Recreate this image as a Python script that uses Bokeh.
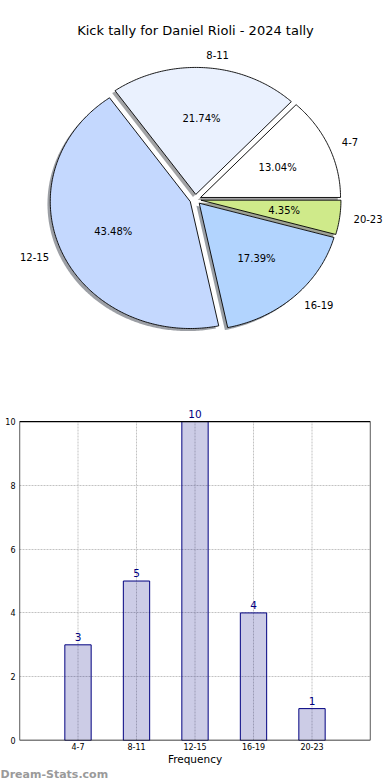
import numpy as np
from bokeh.plotting import figure
from bokeh.models import (Range1d, Label, LabelSet, ColumnDataSource,
                          FixedTicker, Title)
from bokeh.layouts import column
from bokeh.embed import file_html
from bokeh.resources import INLINE
from bokeh.core.properties import value

# ---------------- data ----------------
chart_title = "Kick tally for Daniel Rioli - 2024 tally"
categories = ["4-7", "8-11", "12-15", "16-19", "20-23"]
counts = [3, 5, 10, 4, 1]
pie_colors = ["#ffffff", "#eaf1fe", "#c4d8fe", "#b2d4fe", "#cfea8a"]
y_ticks = [0, 2, 4, 6, 8, 10]
x_label = "Frequency"
watermark = "Dream-Stats.com"

# ---------------- layout constants ----------------
W = 390
PIE_H = 390
BAR_H = 390
FONT = "DejaVu Sans"
CX, CY = 194.9, 199.0       # pie centre in figure pixels (from top-left)
RX, RY = 140.0, 127.0       # pie radii in pixels (elliptical like the source)
EXPLODE = 0.04
SHADOW_OFF = 0.02
LABEL_D = 1.1
PCT_D = 0.6
Y_TOP = 10.66               # frame extends a little above the box top


def hexrgb(h):
    h = h.lstrip("#")
    return tuple(int(h[i:i + 2], 16) for i in (0, 2, 4))


# ---------------- pie ----------------
pie = figure(width=W, height=PIE_H, output_backend="svg", toolbar_location=None,
             x_range=Range1d(-CX / RX, (W - CX) / RX),
             y_range=Range1d(-(PIE_H - CY) / RY, CY / RY),
             x_axis_type=None, y_axis_type=None, min_border=0)
pie.frame_align = False
pie.grid.visible = False
pie.outline_line_color = None
pie.background_fill_color = "white"

total = float(sum(counts))
fracs = np.array(counts, dtype=float) / total
ends = np.cumsum(fracs) * 2 * np.pi
starts = np.concatenate([[0.0], ends[:-1]])

wx, wy, sx, sy, shcol = [], [], [], [], []
lab_l = {"x": [], "y": [], "t": []}
lab_r = {"x": [], "y": [], "t": []}
pct = {"x": [], "y": [], "t": []}
for a0, a1, col, cat, f in zip(starts, ends, pie_colors, categories, fracs):
    m = 0.5 * (a0 + a1)
    ox, oy = EXPLODE * np.cos(m), EXPLODE * np.sin(m)
    t = np.linspace(a0, a1, max(int((a1 - a0) * 80), 10))
    px = np.concatenate([[ox], ox + np.cos(t)])
    py = np.concatenate([[oy], oy + np.sin(t)])
    wx.append(px.tolist())
    wy.append(py.tolist())
    sx.append((px - SHADOW_OFF).tolist())
    sy.append((py - SHADOW_OFF).tolist())
    r, g, b = hexrgb(col)
    shcol.append("#%02x%02x%02x" % (int(r * 0.3), int(g * 0.3), int(b * 0.3)))
    xt = ox + LABEL_D * np.cos(m)
    yt = oy + LABEL_D * np.sin(m)
    d = lab_l if xt > 0 else lab_r
    d["x"].append(xt)
    d["y"].append(yt)
    d["t"].append(cat)
    pct["x"].append(ox + PCT_D * np.cos(m))
    pct["y"].append(oy + PCT_D * np.sin(m))
    pct["t"].append("%.2f%%" % (f * 100))

pie.patches(xs=sx, ys=sy, fill_color=shcol, fill_alpha=0.5, line_color=None)
pie.patches(xs=wx, ys=wy, fill_color=pie_colors, line_color="black", line_width=0.9)

for d, align in ((lab_l, "left"), (lab_r, "right")):
    pie.text(x=d["x"], y=d["y"], text=d["t"], text_font=value(FONT),
             text_font_size="10px", text_align=align, text_baseline="middle",
             text_color="black")
pie.text(x=pct["x"], y=pct["y"], text=pct["t"], text_font=value(FONT),
         text_font_size="10px", text_align="center", text_baseline="middle",
         text_color="black")

pie.add_layout(Label(x=(195.0 - CX) / RX, y=(CY - 30.0) / RY, text=chart_title,
                     text_font=FONT, text_font_size="13px", text_align="center",
                     text_baseline="middle", text_color="black"))

# ---------------- bars ----------------
xpos = list(range(1, len(categories) + 1))
src = ColumnDataSource(dict(x=xpos, count=counts,
                            label=[str(c) for c in counts]))
x_lo, x_hi = 0, len(categories) + 1
y_lo, y_hi = y_ticks[0], y_ticks[-1]

bar = figure(width=W, height=BAR_H, output_backend="svg", toolbar_location=None,
             x_range=Range1d(x_lo, x_hi), y_range=Range1d(y_lo, Y_TOP),
             min_border_top=10, min_border_bottom=40, min_border_left=19,
             min_border_right=20)
bar.frame_align = False
bar.outline_line_color = None
bar.xgrid.visible = False

# vertical dotted grid lines, only inside the box
bar.segment(x0=xpos, y0=[y_lo] * len(xpos), x1=xpos, y1=[y_hi] * len(xpos),
            line_color="#c2c2c2", line_dash="2 1", line_width=1, level="underlay")
bar.ygrid.ticker = FixedTicker(ticks=y_ticks)
bar.ygrid.grid_line_color = "#c2c2c2"
bar.ygrid.grid_line_dash = "2 1"
bar.ygrid.grid_line_width = 1

bar.vbar(x="x", top="count", width=0.45, source=src, fill_color="navy",
         fill_alpha=0.2, line_color="navy", line_width=1)

# axes box
bar.quad(left=[x_lo], right=[x_hi], bottom=[y_lo], top=[y_hi], fill_color=None,
         line_color="black", line_width=1.3)

bar.add_layout(LabelSet(x="x", y="count", text="label", source=src,
                        text_align="center", text_baseline="bottom", y_offset=4,
                        text_font=value(FONT), text_font_size="10.5px",
                        text_color="navy"))

for ax in (bar.xaxis, bar.yaxis):
    ax.axis_line_color = None
    ax.major_tick_line_color = None
    ax.minor_tick_line_color = None
    ax.major_tick_out = 0
    ax.major_tick_in = 0
    ax.minor_tick_out = 0
    ax.minor_tick_in = 0
    ax.major_label_text_font = FONT
    ax.major_label_text_font_size = "8px"
    ax.major_label_text_color = "black"

bar.yaxis.ticker = FixedTicker(ticks=y_ticks)
bar.yaxis.major_label_standoff = 4
bar.xaxis.ticker = FixedTicker(ticks=xpos)
bar.xaxis.major_label_overrides = {p: c for p, c in zip(xpos, categories)}
bar.xaxis.major_label_standoff = 2
bar.xaxis.axis_label = x_label
bar.xaxis.axis_label_text_font = FONT
bar.xaxis.axis_label_text_font_size = "10.5px"
bar.xaxis.axis_label_text_font_style = "normal"
bar.xaxis.axis_label_standoff = 0
bar.xaxis.axis_label_text_color = "black"

bar.add_layout(Title(text=watermark, align="left", offset=-19, standoff=-3,
                     text_font=FONT, text_font_size="11px",
                     text_font_style="bold", text_color="#9a9a9a"), "below")

layout = column(pie, bar, spacing=0)
open("out.html", "w").write(file_html(layout, INLINE))
